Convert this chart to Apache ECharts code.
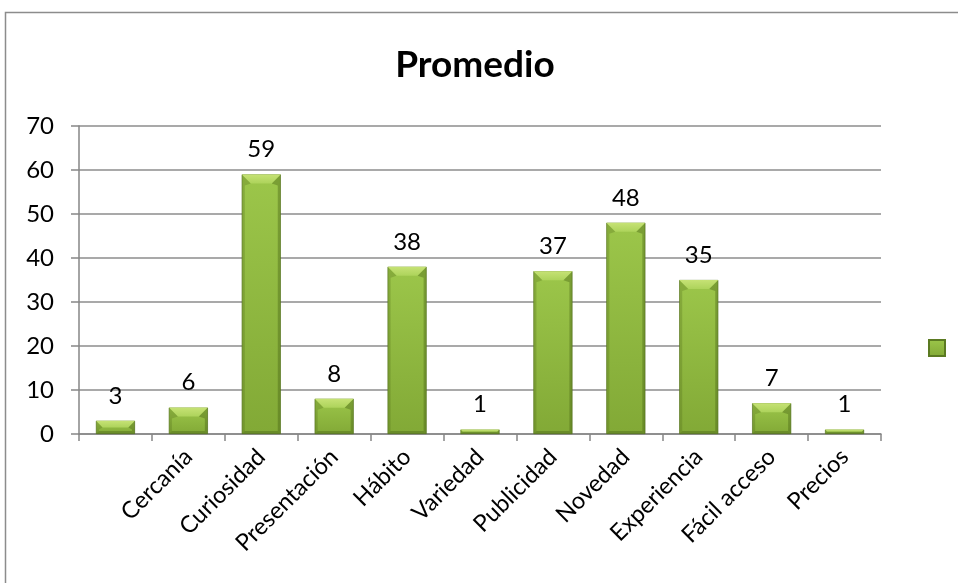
<!DOCTYPE html>
<html>
<head>
<meta charset="utf-8">
<script src="https://cdn.jsdelivr.net/npm/echarts@6/dist/echarts.min.js"></script>
<style>
  html, body { margin: 0; padding: 0; background: #fff; }
  #chart { width: 958px; height: 583px; }
</style>
</head>
<body>
<div id="chart"></div>
<script>
// Survey averages per motive
const categories = ['', 'Cercanía', 'Curiosidad', 'Presentación', 'Hábito', 'Variedad', 'Publicidad', 'Novedad', 'Experiencia', 'Fácil acceso', 'Precios'];
const values = [3, 6, 59, 8, 38, 1, 37, 48, 35, 7, 1];
const yTicks = [0, 10, 20, 30, 40, 50, 60, 70];

const FONT = 'Lato, "Open Sans", sans-serif';
const BAR_RATIO = 0.535;

const barFill = new echarts.graphic.LinearGradient(0, 0, 0, 1, [
  { offset: 0, color: '#9cc64a' },
  { offset: 1, color: '#82a936' }
]);

// Bevel shading drawn over each bar: light top facet, darker side and bottom edges
function renderBevel(params, api) {
  const idx = api.value(0);
  const v = api.value(1);
  const top = api.coord([idx, v]);
  const base = api.coord([idx, 0]);
  const w = api.size([1, 0])[0] * BAR_RATIO;
  const l = top[0] - w / 2, r = top[0] + w / 2;
  const t = top[1], b = base[1];
  const h = b - t;
  const bv = Math.min(9, h / 2);
  const sv = Math.min(3, h / 2);
  return {
    type: 'group',
    silent: true,
    children: [
      {
        type: 'polygon',
        shape: { points: [[l, t], [r, t], [r - bv, t + bv], [l + bv, t + bv]] },
        style: {
          fill: new echarts.graphic.LinearGradient(0, 0, 0, 1, [
            { offset: 0, color: '#c6e275' },
            { offset: 1, color: '#add35b' }
          ])
        }
      },
      {
        type: 'polygon',
        shape: { points: [[l, t], [l + bv, t + bv], [l + sv, t + bv + 2], [l + sv, b - sv], [l, b]] },
        style: { fill: 'rgba(70,95,20,0.25)' }
      },
      {
        type: 'polygon',
        shape: { points: [[r, t], [r - bv, t + bv], [r - sv, t + bv + 2], [r - sv, b - sv], [r, b]] },
        style: { fill: 'rgba(60,85,15,0.35)' }
      },
      {
        type: 'polygon',
        shape: { points: [[l, b], [l + sv, b - sv], [r - sv, b - sv], [r, b]] },
        style: { fill: 'rgba(60,85,15,0.35)' }
      }
    ]
  };
}

const chart = echarts.init(document.getElementById('chart'));
chart.setOption({
  animation: false,
  backgroundColor: '#fff',
  graphic: [{
    type: 'rect',
    shape: { x: 5.5, y: 12.5, width: 960, height: 580 },
    style: { fill: 'none', stroke: '#8c8c8c', lineWidth: 1.5 },
    silent: true
  }],
  title: {
    text: 'Promedio',
    left: 470,
    top: 42,
    textAlign: 'center',
    textStyle: { fontFamily: FONT, fontWeight: 'bold', fontSize: 37, color: '#000' }
  },
  legend: {
    show: true,
    left: 923,
    top: 334,
    itemWidth: 16,
    itemHeight: 16,
    data: [{ name: 'Promedio', icon: 'rect' }],
    formatter: function () { return ''; },
    itemGap: 0
  },
  grid: { left: 79, right: 77, top: 126, bottom: 149, containLabel: false },
  xAxis: {
    type: 'category',
    data: categories,
    axisLine: { lineStyle: { color: '#868686', width: 1.5 } },
    axisTick: { show: true, alignWithLabel: false, length: 7, lineStyle: { color: '#868686', width: 1.5 } },
    axisLabel: {
      interval: 0,
      rotate: 45,
      margin: 19,
      fontFamily: FONT,
      fontSize: 23.5,
      color: '#000'
    }
  },
  yAxis: {
    type: 'value',
    min: yTicks[0],
    max: yTicks[yTicks.length - 1],
    interval: 10,
    axisLine: { show: true, lineStyle: { color: '#868686', width: 1.5 } },
    axisTick: { show: true, length: 8, lineStyle: { color: '#868686', width: 1.5 } },
    splitLine: { lineStyle: { color: '#8c8c8c', width: 1.5 } },
    axisLabel: { fontFamily: FONT, fontSize: 24, color: '#000', margin: 25 }
  },
  series: [
    {
      name: 'Promedio',
      type: 'bar',
      data: values,
      barWidth: (BAR_RATIO * 100) + '%',
      itemStyle: { color: barFill, borderColor: '#5b7a22', borderWidth: 0.6 },
      label: {
        show: true,
        position: 'top',
        distance: 13,
        fontFamily: FONT,
        fontSize: 24,
        color: '#000'
      }
    },
    {
      name: 'bevel',
      type: 'custom',
      renderItem: renderBevel,
      data: values.map((v, i) => [i, v]),
      encode: { x: 0, y: 1 },
      z: 3
    }
  ]
});
</script>
</body>
</html>
